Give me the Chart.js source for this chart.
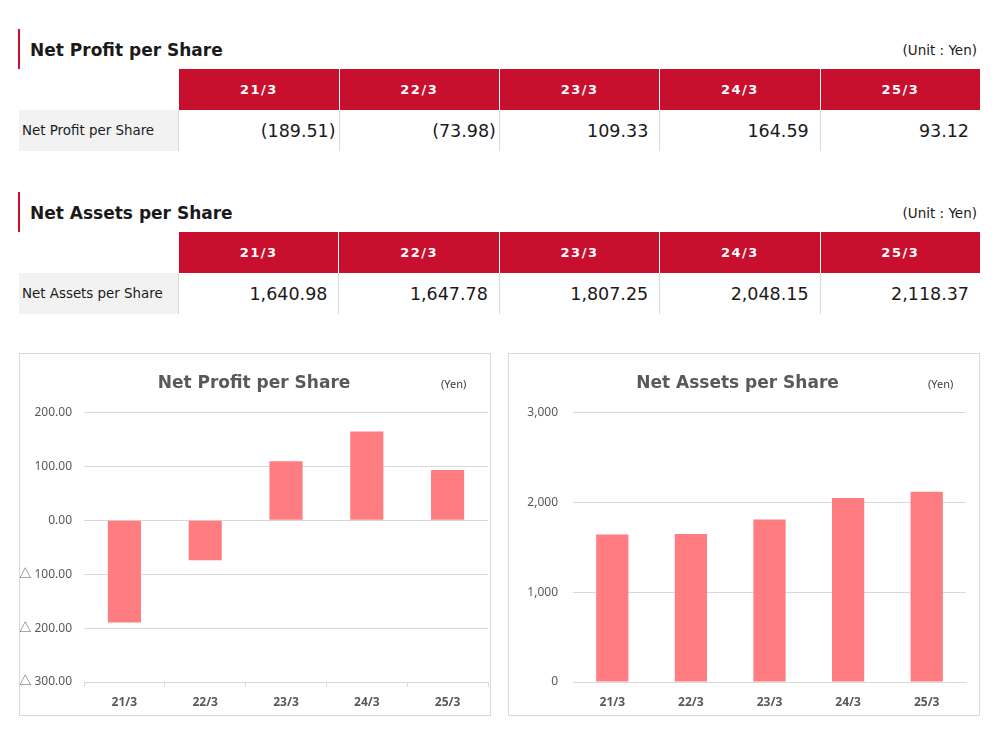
<!DOCTYPE html>
<html>
<head>
<meta charset="utf-8">
<script src="https://cdn.jsdelivr.net/npm/chart.js@4"></script>
<style>
  body { margin: 0; background: #fff; font-family: "DejaVu Sans", Verdana, sans-serif; color: #1a1a1a; }
  .page { position: relative; width: 1000px; height: 750px; }
  .section { position: absolute; left: 18px; width: 962px; }
  .heading { height: 40px; border-left: 2px solid #c8102e; padding-left: 10px; position: relative; }
  .heading h2 { margin: 0; font-size: 17px; font-weight: bold; line-height: 40px; position: relative; top: 1px; }
  .heading .unit { position: absolute; right: 3px; top: 1px; line-height: 40px; font-size: 13.5px; }
  table { border-collapse: collapse; margin-left: 1px; table-layout: fixed; }
  th { height: 41px; width: 160px; padding: 0; background: #c8102e; color: #fff; font-size: 13px; letter-spacing: 1.5px; font-weight: bold; border-left: 1px solid #fff; }
  th.blank { background: #fff; border-left: none; }
  td { height: 41px; padding: 0 11px 0 0; font-size: 17.5px; text-align: right; border-left: 1px solid #d9d9d9; }
  td.label { background: #f2f2f2; text-align: left; padding: 0 0 0 3px; font-size: 13.4px; border-left: none; }
  td .neg { margin-right: -8px; }
  .box { position: absolute; top: 353px; width: 472px; height: 363px; box-sizing: border-box; border: 1px solid #d9d9d9; }
  .box canvas { position: absolute; left: 0; top: 0; }
  .yen { position: absolute; font-size: 11px; color: #404040; top: 22px; font-family: "Noto Sans", sans-serif; }
</style>
</head>
<body>
<div class="page">
  <div class="section" style="top:29px">
    <div class="heading"><h2>Net Profit per Share</h2><span class="unit">(Unit : Yen)</span></div>
    <table id="profitTable"></table>
  </div>
  <div class="section" style="top:192px">
    <div class="heading"><h2>Net Assets per Share</h2><span class="unit">(Unit : Yen)</span></div>
    <table id="assetsTable"></table>
  </div>

  <div class="box" style="left:19px">
    <canvas id="profitChart" width="470" height="361"></canvas>
    <span class="yen" style="left:421px">(Yen)</span>
  </div>
  <div class="box" style="left:508px">
    <canvas id="assetsChart" width="470" height="361"></canvas>
    <span class="yen" style="left:419px">(Yen)</span>
  </div>
</div>

<script>
// Fiscal years (March year-end)
var years = ['21/3', '22/3', '23/3', '24/3', '25/3'];

// Per share figures, yen
var netProfitPerShare = [-189.51, -73.98, 109.33, 164.59, 93.12];
var netAssetsPerShare = [1640.98, 1647.78, 1807.25, 2048.15, 2118.37];

// Axis ticks
var profitTicks = [-300, -200, -100, 0, 100, 200];
var assetsTicks = [0, 1000, 2000, 3000];

var barColor = '#ff7c80';
var textGray = '#595959';
var lineGray = '#d9d9d9';

function fmt(v) {
  return Math.abs(v).toLocaleString('en-US', { minimumFractionDigits: 2, maximumFractionDigits: 2 });
}

// Table: header row of years, then one row of values
function buildTable(id, label, values) {
  var table = document.getElementById(id);
  var head = '<tr><th class="blank"></th>' + years.map(function(y) { return '<th>' + y + '</th>'; }).join('') + '</tr>';
  var row = '<tr><td class="label">' + label + '</td>' + values.map(function(v) {
    return v < 0 ? '<td><span class="neg">(' + fmt(v) + ')</span></td>' : '<td>' + fmt(v) + '</td>';
  }).join('') + '</tr>';
  table.innerHTML = head + row;
}

buildTable('profitTable', 'Net Profit per Share', netProfitPerShare);
buildTable('assetsTable', 'Net Assets per Share', netAssetsPerShare);

function makeChart(id, title, data, ticks, tickFmt, rightPad, drawTicks) {
  var tickMin = Math.min.apply(null, ticks);
  var tickMax = Math.max.apply(null, ticks);
  return new Chart(document.getElementById(id), {
    type: 'bar',
    data: {
      labels: years,
      datasets: [{ data: data, backgroundColor: barColor, borderWidth: 0, barPercentage: 0.41, categoryPercentage: 1 }]
    },
    options: {
      responsive: false,
      animation: false,
      layout: { padding: { left: 0, right: rightPad, top: 0, bottom: 0 } },
      plugins: {
        legend: { display: false },
        tooltip: { enabled: false },
        title: {
          display: true, text: title, color: textGray,
          font: { family: '"DejaVu Sans", sans-serif', size: 17, weight: 'bold' },
          padding: { top: 19, bottom: 19 }
        }
      },
      scales: {
        x: {
          grid: { display: true, drawOnChartArea: false, drawTicks: drawTicks, tickLength: 5, color: lineGray },
          border: { display: true, color: lineGray },
          ticks: { color: textGray, padding: drawTicks ? 8 : 13, font: { family: '"Noto Sans", sans-serif', size: 12, weight: 'bold' } },
          afterFit: function(s) { s.height = 33; }
        },
        y: {
          min: tickMin, max: tickMax,
          afterBuildTicks: function(s) { s.ticks = ticks.map(function(v) { return { value: v }; }); },
          grid: { color: lineGray, drawTicks: false },
          border: { display: false },
          ticks: { color: textGray, padding: drawTicks ? 12 : 15, font: { family: '"Noto Sans", "Noto Sans CJK JP", sans-serif', size: 12 }, callback: tickFmt },
          afterFit: function(s) { s.width = 64; }
        }
      }
    }
  });
}

makeChart('profitChart', 'Net Profit per Share', netProfitPerShare, profitTicks, function(v) {
  return v < 0 ? '\u25B3 ' + fmt(v) : fmt(v);
}, 2, true);

makeChart('assetsChart', 'Net Assets per Share', netAssetsPerShare, assetsTicks, function(v) {
  return v.toLocaleString('en-US');
}, 13, false);
</script>
</body>
</html>
